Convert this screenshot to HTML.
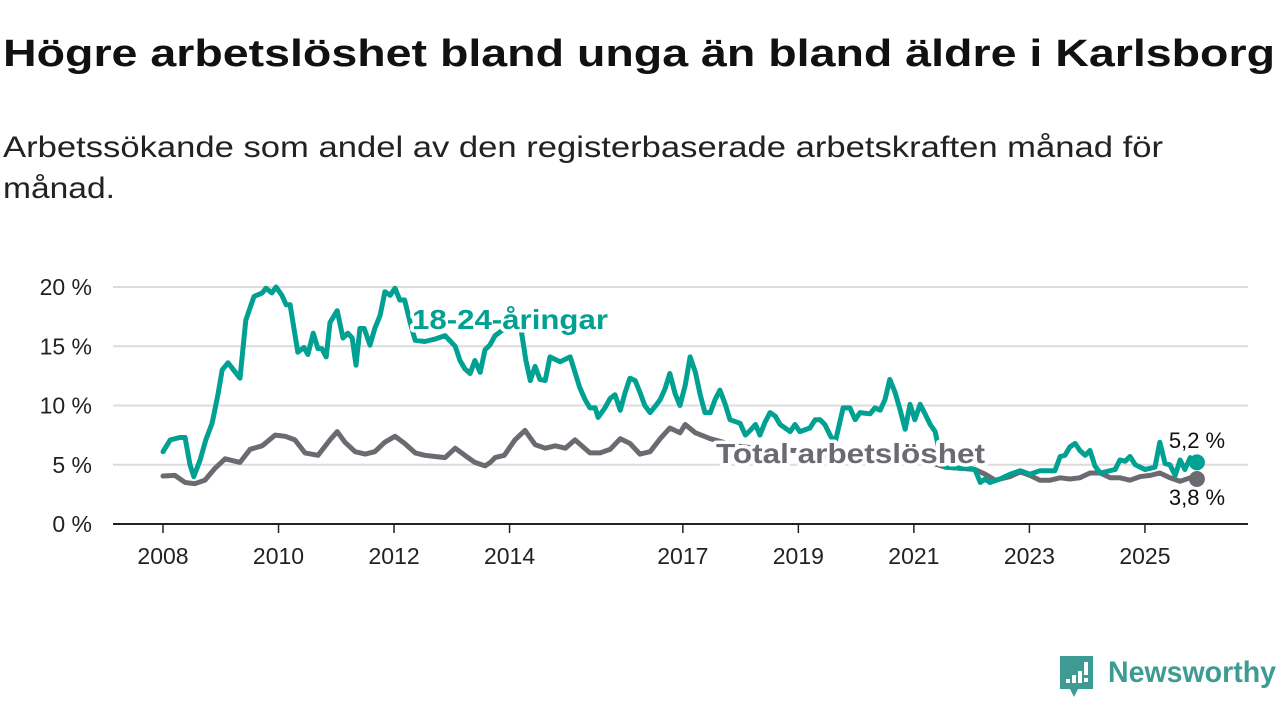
<!DOCTYPE html>
<html><head><meta charset="utf-8">
<style>
body{margin:0;width:1280px;height:720px;background:#fff;font-family:"Liberation Sans","DejaVu Sans",sans-serif;overflow:hidden;position:relative;color:#111}
svg{position:absolute;left:0;top:0}
</style></head><body>
<svg id="chart" width="1280" height="720">
<text x="3" y="66" font-size="38" font-weight="bold" fill="#111" textLength="1272" lengthAdjust="spacingAndGlyphs">Högre arbetslöshet bland unga än bland äldre i Karlsborg</text>
<text x="3" y="157" font-size="30" fill="#222" textLength="1160" lengthAdjust="spacingAndGlyphs">Arbetssökande som andel av den registerbaserade arbetskraften månad för</text>
<text x="3" y="198" font-size="30" fill="#222" textLength="112" lengthAdjust="spacingAndGlyphs">månad.</text>
</svg>
<script>
const yTicks=[0,5,10,15,20];
const xTickYears=[2008,2010,2012,2014,2017,2019,2021,2023,2025];
const youthMonths=[0,1.5,3.5,4.6,5.6,6.4,7.7,8.9,10.2,11.4,12.3,13.5,16,17.2,18.9,20.6,21.4,22.6,23.5,24.7,25.6,26.4,27.4,28,29.3,30.1,31.2,32.2,33,33.9,34.7,36.2,37.4,38.4,39.3,40.1,40.9,41.8,43,44,45.1,46.1,47.2,48.2,49.2,50.2,51.3,52.4,54.4,56.5,58.6,60.7,61.7,62.7,63.8,64.8,65.9,66.9,67.9,69,71,73.1,74.4,75.4,76.3,77.3,78.3,79.4,80.4,82.5,84.6,85.6,86.6,87.7,88.7,89.8,90.4,91.8,92.9,93.9,95,96,97,98.1,99.1,100.1,101.2,102.2,103.3,104.3,105.3,106.4,107.4,108.5,109.5,110.6,111.6,112.6,113.7,114.7,115.7,116.8,117.8,119.9,121,122,123.1,124,125.1,126.1,127.2,128.2,130.3,131.3,132.3,134.4,135.5,136.5,137.5,138.6,139.6,141.3,142.7,143.8,144.8,146.9,147.9,149,150,151,152.1,153.1,154.2,155.2,156.2,157.3,158.3,159.4,160.4,161.4,162.5,165.6,167.7,168.7,169.8,170.8,171.8,173.9,176,178.1,180.1,182.2,185.3,186.4,187.4,188.4,189.5,190.5,191.6,192.6,193.6,194.7,197.8,198.8,199.9,200.9,202,204,205.1,206.1,207.1,208.2,209.2,210.3,211.3,212.3,213.4,214.8];
const youthValues=[6.1,7.1,7.3,7.3,5.0,4.0,5.4,7.1,8.5,10.9,13.0,13.6,12.3,17.2,19.2,19.5,19.9,19.5,20.0,19.3,18.5,18.5,16.0,14.5,14.9,14.3,16.1,14.8,14.8,14.1,17.0,18.0,15.7,16.1,15.7,13.4,16.5,16.5,15.1,16.5,17.6,19.6,19.3,19.9,18.9,18.9,17.1,15.5,15.4,15.6,15.9,15.0,13.8,13.1,12.7,13.8,12.8,14.7,15.1,15.9,16.5,16.7,16.4,13.8,12.1,13.3,12.2,12.1,14.1,13.7,14.1,12.8,11.5,10.5,9.8,9.8,9.0,9.8,10.6,10.9,9.6,11.1,12.3,12.1,11.1,10.0,9.4,9.9,10.5,11.4,12.7,11.0,10.0,11.7,14.1,12.8,10.9,9.4,9.4,10.5,11.3,10.1,8.8,8.5,7.5,7.9,8.4,7.5,8.6,9.4,9.1,8.4,7.8,8.4,7.8,8.1,8.8,8.8,8.4,7.5,6.8,9.8,9.8,8.8,9.4,9.3,9.8,9.6,10.5,12.2,11.1,9.7,8.0,10.1,8.8,10.1,9.3,8.4,7.8,6.0,4.8,4.7,4.7,4.6,3.5,3.8,3.5,3.8,4.2,4.5,4.2,4.5,4.5,5.7,5.8,6.5,6.8,6.2,5.8,6.2,4.9,4.3,4.6,5.4,5.3,5.7,5.0,4.6,4.7,4.8,6.9,5.1,5.0,4.1,5.4,4.6,5.6,5.2];
const totalMonths=[0,2.5,4.6,6.6,8.7,10.8,12.9,16,18.1,20.6,23.3,25.4,27.4,29.5,32.2,34.7,36.2,37.8,39.9,42,44,46.1,48.2,50.2,52.4,54.4,56.5,58.6,60.7,62.7,64.8,66.9,68,69,70.9,73.1,75.2,77.3,79.4,81.5,83.6,85.6,88.7,90.8,92.9,95,97,99.1,101.2,103.3,105.3,107.4,108.5,110.6,113.7,119,125,131.3,137.5,143.8,150,156.2,162.5,165.6,168.7,170.8,172.9,176,178.1,180.1,182.2,184.3,186.4,188.4,190.5,192.6,194.7,196.8,198.8,200.9,203,205.1,207.1,209.2,211.3,213.4,214.8];
const totalValues=[4.05,4.1,3.5,3.4,3.7,4.7,5.5,5.2,6.3,6.6,7.5,7.4,7.1,6.0,5.8,7.1,7.8,6.9,6.1,5.9,6.1,6.9,7.4,6.8,6.0,5.8,5.7,5.6,6.4,5.8,5.2,4.9,5.2,5.6,5.8,7.1,7.9,6.7,6.4,6.6,6.4,7.1,6.0,6.0,6.3,7.2,6.8,5.9,6.1,7.2,8.1,7.7,8.4,7.7,7.2,6.6,6.3,6.2,5.7,5.6,5.7,5.6,4.8,4.7,4.6,4.2,3.7,4.0,4.4,4.1,3.7,3.7,3.9,3.8,3.9,4.3,4.3,3.9,3.9,3.7,4.0,4.1,4.3,3.9,3.6,3.9,3.8];

const NS='http://www.w3.org/2000/svg';
const svg=document.getElementById('chart');
const X=m=>163+m*(57.76/12);
const Y=v=>524-v*11.85;
function mk(t,a,p){const e=document.createElementNS(NS,t);for(const k in a)e.setAttribute(k,a[k]);(p||svg).appendChild(e);return e;}
yTicks.forEach(v=>{
  if(v>0){const g=mk('line',{x1:113,x2:1248,y1:Y(v),y2:Y(v),stroke:'#dcdcdc','stroke-width':2});
  
  }
  const t=mk('text',{x:92,y:Y(v)+8,'text-anchor':'end','font-size':23,fill:'#222'});
  t.textContent=v+' %';
  
  
});
const ax=mk('line',{x1:113,x2:1248,y1:524,y2:524,stroke:'#222','stroke-width':2});


xTickYears.forEach(yr=>{
  const x=X((yr-2008)*12);
  const tk=mk('line',{x1:x,x2:x,y1:524,y2:533,stroke:'#222','stroke-width':1.5});
  
  
  const t=mk('text',{x:x,y:564,'text-anchor':'middle','font-size':23,fill:'#222'});
  t.textContent=yr;
  
  
});
function line(ms,vs,col,name){
  const d=ms.map((m,i)=>(i?'L':'M')+X(m).toFixed(1)+','+Y(vs[i]).toFixed(1)).join('');
  const p=mk('path',{d:d,fill:'none',stroke:col,'stroke-width':5,'stroke-linejoin':'round','stroke-linecap':'round'});
  
  
  const c=mk('circle',{cx:X(ms[ms.length-1]),cy:Y(vs[vs.length-1]),r:8,fill:col});
  
  
}
line(totalMonths,totalValues,'#6b6a70','total-line');
line(youthMonths,youthValues,'#00a092','youth-line');
function lab(x,y,txt,col,size,weight,name,anchor,len){
  const a={x:x,y:y,'font-size':size,'font-weight':weight,fill:col,stroke:'#fff','stroke-width':weight==='bold'?7:4,'paint-order':'stroke','stroke-linejoin':'round','text-anchor':anchor||'start'};
  if(len){a.textLength=len;a.lengthAdjust='spacingAndGlyphs';}
  const t=mk('text',a);
  t.textContent=txt;
  
  
}
lab(412,329,'18-24-åringar','#00a092',28,'bold','youth-series-label','start',196);
lab(716,463,'Total arbetslöshet','#6b6a70',28,'bold','total-series-label','start',269);
lab(1197,448,'5,2 %','#111',22,'normal','youth-end-value','middle');
lab(1197,505,'3,8 %','#111',22,'normal','total-end-value','middle');
const lg=mk('g',{});


mk('path',{d:'M1060,656 h33 v33 h-15 l-4,8 l-4,-8 h-10 z',fill:'#3e9b93'},lg);
[[1066,679,6],[1072,675,10],[1078,671,14]].forEach(b=>mk('rect',{x:b[0],y:b[1],width:4,height:b[2]-2,fill:'#fff'},lg));
mk('rect',{x:1084,y:662,width:4,height:13,fill:'#fff'},lg);
mk('rect',{x:1084,y:678,width:4,height:4,fill:'#fff'},lg);
const lt=mk('text',{x:1108,y:682,'font-size':30,fill:'#3e9b93','font-weight':'bold',textLength:168,lengthAdjust:'spacingAndGlyphs'},lg);
lt.textContent='Newsworthy';


</script>
</body></html>
